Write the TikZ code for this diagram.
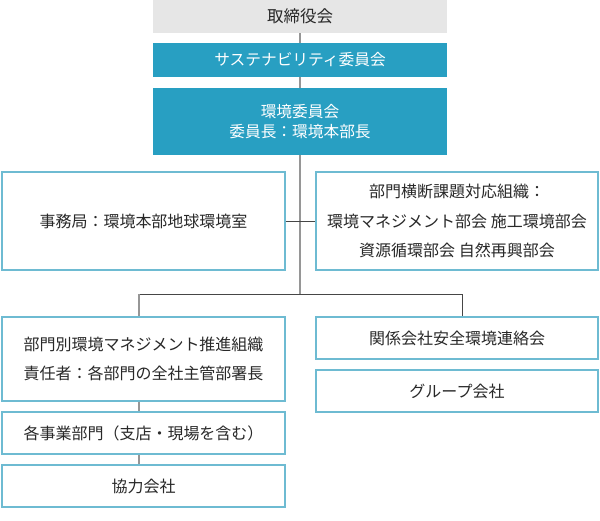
\documentclass[tikz,border=0pt]{standalone}
\usepackage{fontspec}
\setmainfont{Noto Sans CJK JP}
\usepackage{tikz}
\usetikzlibrary{calc,positioning}
\definecolor{teal}{RGB}{40,159,194}
\definecolor{rim}{RGB}{110,187,210}
\definecolor{board}{RGB}{230,230,230}
\definecolor{ink}{RGB}{40,40,40}
\definecolor{trunk}{RGB}{150,150,150}
\definecolor{branch}{RGB}{70,70,70}

\begin{document}
\begin{tikzpicture}[x=1pt,y=-1pt,
		box/.style={draw=rim,line width=1.2pt,fill=white,text=ink,align=center,inner sep=0pt,
			font=\fontsize{16}{29.5}\selectfont},
		headbox/.style={fill=teal,text=white,align=center,inner sep=0pt,
			font=\fontsize{15.7}{20.5}\selectfont},
		topbox/.style={fill=board,text=ink,inner sep=0pt,font=\fontsize{16.5}{20}\selectfont},
		trunkline/.style={draw=trunk,line width=1.4pt},
		branchline/.style={draw=branch,line width=1pt}]
			%%%%% START %%%%%
			
			\useasboundingbox (0,0) rectangle (600,520);
			
			\node[topbox, minimum width=294, minimum height=33] (board) at (300,16.5) {取締役会};
			\node[headbox, minimum width=294, minimum height=34] (sust) at (300,60) {サステナビリティ委員会};
			\node[headbox, minimum width=294, minimum height=67] (envc) at (300,121.5) {環境委員会\\委員長：環境本部長};
			
			\node[box, minimum width=283, minimum height=98] (secr) at (143.5,221) {事務局：環境本部地球環境室};
			\node[box, minimum width=282, minimum height=98] (cross) at (457,221) {部門横断課題対応組織：\\環境マネジメント部会 施工環境部会\\資源循環部会 自然再興部会};
			
			\node[box, minimum width=283, minimum height=84] (dept) at (143.5,359) {部門別環境マネジメント推進組織\\責任者：各部門の全社主管部署長};
			\node[box, minimum width=283, minimum height=42] (bus) at (143.5,433) {各事業部門（支店・現場を含む）};
			\node[box, minimum width=283, minimum height=42] (coop) at (143.5,486) {協力会社};
			
			\node[box, minimum width=282, minimum height=42] (affil) at (457,338) {関係会社安全環境連絡会};
			\node[box, minimum width=282, minimum height=42] (group) at (457,391) {グループ会社};
			
			\coordinate (split) at (300,294);
			\coordinate (lt) at (139,294);
			\coordinate (rt) at (462,294);
			
			\draw[trunkline] (board.south) -- (sust.north);
			\draw[trunkline] (sust.south) -- (envc.north);
			\draw[trunkline] (envc.south) -- (split);
			\draw[branchline] (secr.east) -- (cross.west);
			
			\draw[branchline] (lt) -- (rt);
			\draw[trunkline] (lt) -- (lt |- dept.north);
			\draw[branchline] (rt) -- (rt |- affil.north);
			\draw[trunkline] (lt |- dept.south) -- (lt |- bus.north);
			\draw[trunkline] (lt |- bus.south) -- (lt |- coop.north);
			
			%%%%% END %%%%%
\end{tikzpicture}
\end{document}
